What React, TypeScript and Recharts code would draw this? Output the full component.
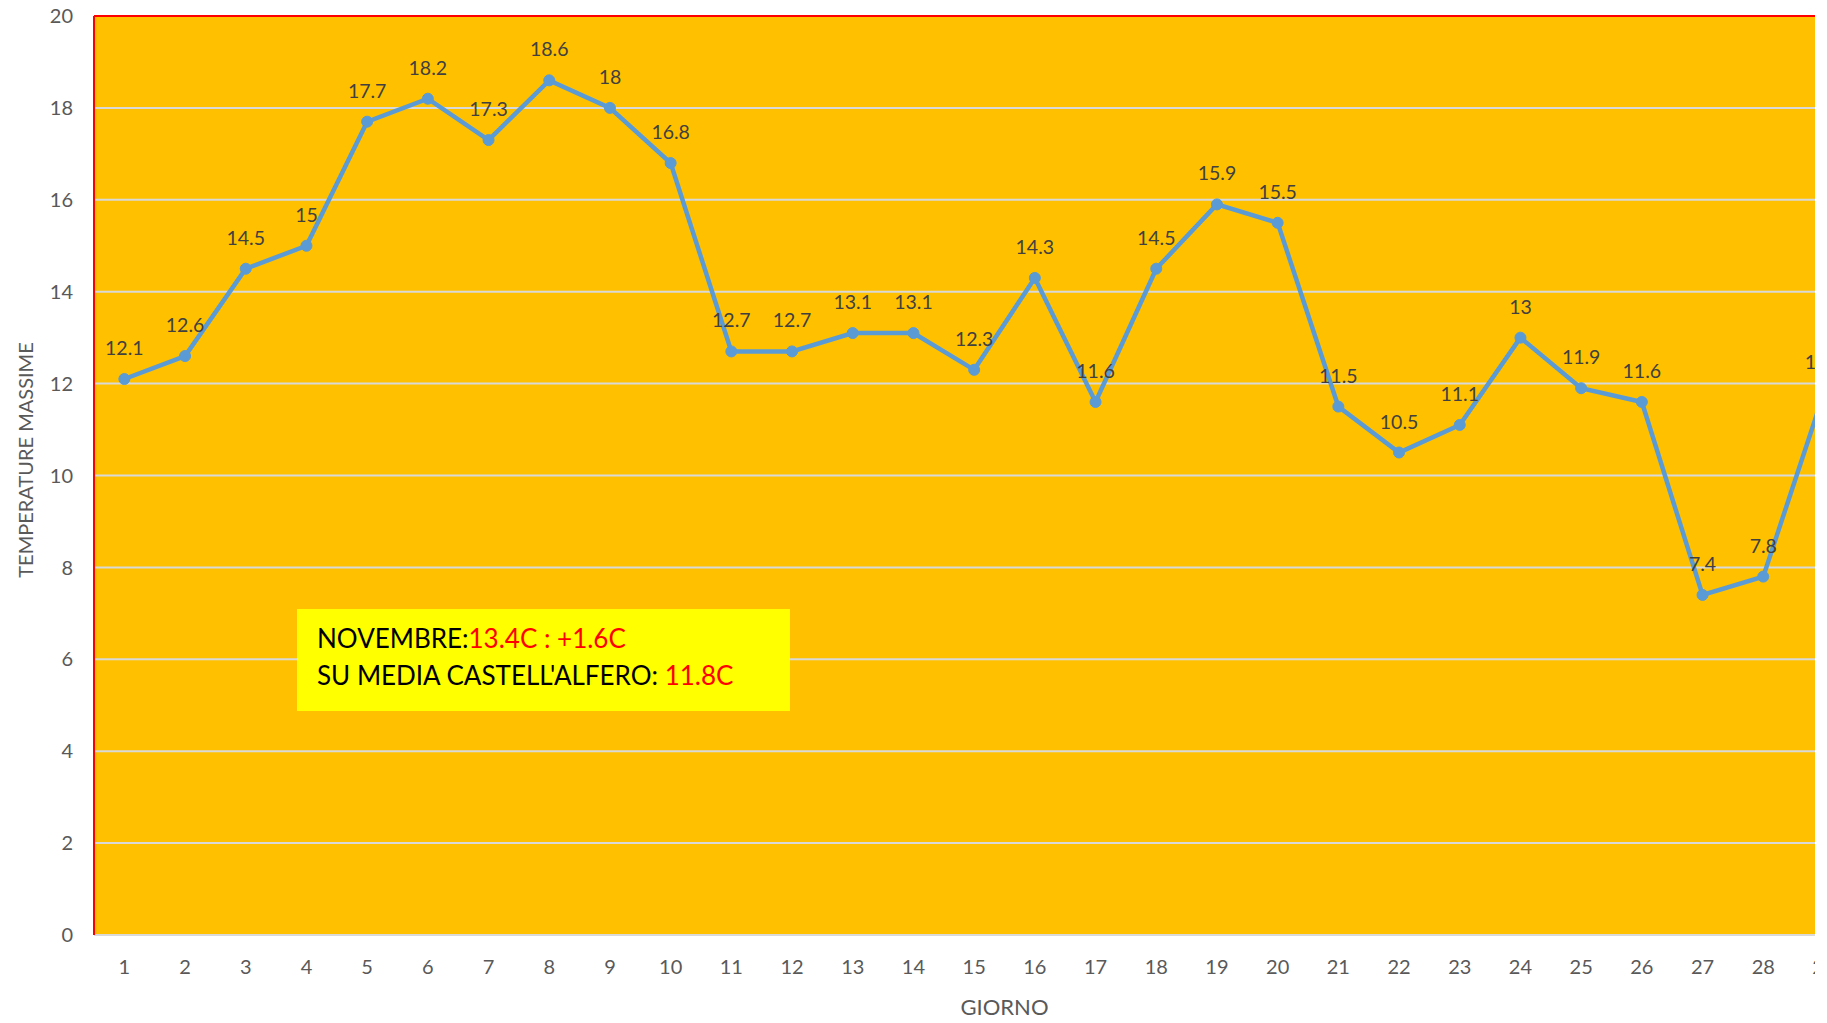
import React from 'react';
import { LineChart, Line, XAxis, YAxis, CartesianGrid, LabelList, ReferenceLine } from 'recharts';

const days = [
  1, 2, 3, 4, 5, 6, 7, 8, 9, 10, 11, 12, 13, 14, 15, 16, 17, 18, 19, 20, 21, 22, 23, 24, 25, 26, 27, 28,
  29, 30,
];
const maxTemps: (number | null)[] = [
  12.1, 12.6, 14.5, 15, 17.7, 18.2, 17.3, 18.6, 18, 16.8, 12.7, 12.7, 13.1, 13.1, 12.3, 14.3, 11.6, 14.5,
  15.9, 15.5, 11.5, 10.5, 11.1, 13, 11.9, 11.6, 7.4, 7.8, 11.8, null,
];
const yTicks = [0, 2, 4, 6, 8, 10, 12, 14, 16, 18, 20];

const data = days.map((d, i) => ({ day: d, temp: maxTemps[i] }));

const FONT = 'Lato, "Open Sans", sans-serif';

const App: React.FC = () => {
  return (
    <div
      style={{
        position: 'absolute',
        left: 0,
        top: 0,
        width: 1815,
        height: 1023,
        overflow: 'hidden',
        background: '#fff',
        fontFamily: FONT,
      }}
    >
      <LineChart width={1915} height={1023} data={data} margin={{ top: 16, right: 0, bottom: 0, left: 0 }}>
        <CartesianGrid vertical={false} fill="#FFC000" stroke="#D9D9D9" strokeWidth={2} />
        <XAxis
          dataKey="day"
          height={88}
          padding={{ left: 30.35, right: 30.35 }}
          tickLine={false}
          tickMargin={19}
          axisLine={{ stroke: '#D9D9D9', strokeWidth: 2 }}
          tick={{ fill: '#595959', fontSize: 20, fontFamily: FONT }}
          interval={0}
          label={{
            value: 'GIORNO',
            position: 'insideBottom',
            offset: 8,
            fill: '#595959',
            fontSize: 22,
            fontFamily: FONT,
          }}
        />
        <YAxis
          width={94}
          domain={[0, 20]}
          ticks={yTicks}
          tickLine={false}
          tickMargin={15}
          axisLine={{ stroke: '#FF0000', strokeWidth: 2 }}
          tick={{ fill: '#595959', fontSize: 20, fontFamily: FONT }}
          label={{
            content: () => (
              <text
                x={25}
                y={460}
                transform="rotate(-90 25 460)"
                textAnchor="middle"
                dominantBaseline="central"
                fill="#595959"
                fontSize={20}
                fontFamily={FONT}
              >
                TEMPERATURE MASSIME
              </text>
            ),
          }}
        />
        <ReferenceLine y={20} stroke="#FF0000" strokeWidth={2} />
        <Line
          type="linear"
          dataKey="temp"
          stroke="#5B9BD5"
          strokeWidth={4.5}
          dot={{ r: 5.5, fill: '#5B9BD5', stroke: '#5B9BD5', strokeWidth: 1 }}
          activeDot={false}
          isAnimationActive={false}
        >
          <LabelList
            dataKey="temp"
            position="top"
            offset={24}
            fill="#404040"
            fontSize={19.5}
            fontFamily={FONT}
          />
        </Line>
      </LineChart>
      <div
        style={{
          position: 'absolute',
          left: 297,
          top: 609,
          width: 493,
          height: 102,
          background: '#FFFF00',
          fontSize: 26,
          lineHeight: '37px',
          color: '#000',
          paddingLeft: 20,
          paddingTop: 11,
          boxSizing: 'border-box',
          whiteSpace: 'nowrap',
        }}
      >
        <div>
          NOVEMBRE:<span style={{ color: '#FF0000' }}>13.4C : +1.6C</span>
        </div>
        <div>
          SU MEDIA CASTELL'ALFERO: <span style={{ color: '#FF0000' }}>11.8C</span>
        </div>
      </div>
    </div>
  );
};

export default App;
